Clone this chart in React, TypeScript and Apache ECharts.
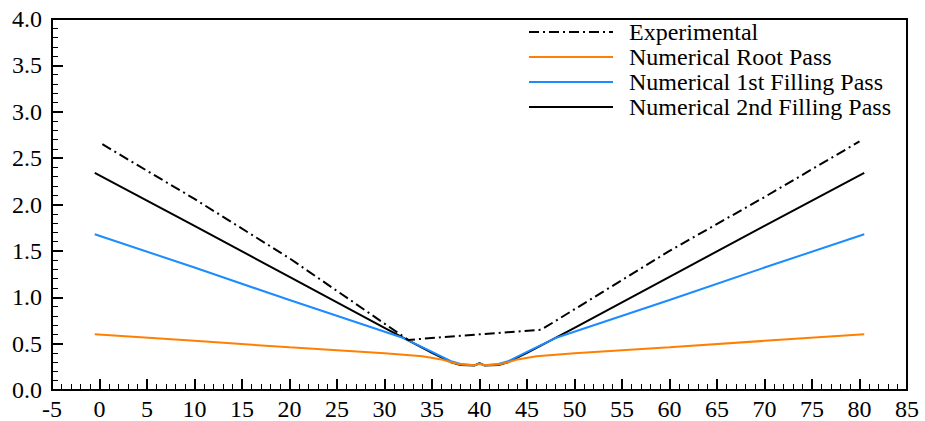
import React, { useEffect, useRef } from "react";
import * as echarts from "echarts";

const seriesNames = [
  "Experimental",
  "Numerical Root Pass",
  "Numerical 1st Filling Pass",
  "Numerical 2nd Filling Pass",
];

const experimental: [number, number][] = [
  [0.3, 2.65], [10, 2.06], [20, 1.42], [32.5, 0.54], [40, 0.6], [46.5, 0.65], [60, 1.5], [70, 2.08], [80, 2.68],
];

const rootPass: [number, number][] = [
  [-0.5, 0.6], [10, 0.53], [20, 0.46], [30, 0.395], [34, 0.365], [36, 0.33], [37, 0.3], [38, 0.275],
  [39.5, 0.268], [40, 0.28], [40.5, 0.268], [42, 0.275], [43, 0.3], [44, 0.33], [46, 0.365], [50, 0.395],
  [60, 0.46], [70, 0.53], [80.5, 0.6],
];

const firstFilling: [number, number][] = [
  [-0.5, 1.68], [10, 1.32], [20, 0.97], [32, 0.56], [35, 0.41], [37, 0.31], [38, 0.28], [39.5, 0.268],
  [40, 0.285], [40.5, 0.268], [42, 0.28], [43, 0.31], [45, 0.41], [48, 0.56], [60, 0.97], [70, 1.32], [80.5, 1.68],
];

const secondFilling: [number, number][] = [
  [-0.5, 2.34], [10, 1.77], [20, 1.22], [30, 0.67], [35, 0.4], [37, 0.3], [38, 0.27], [39.5, 0.265],
  [40, 0.29], [40.5, 0.265], [42, 0.27], [43, 0.3], [45, 0.4], [50, 0.67], [60, 1.22], [70, 1.77], [80.5, 2.34],
];

const seriesData = [experimental, rootPass, firstFilling, secondFilling];
const seriesColors = ["#000000", "#ff8000", "#1a8cff", "#000000"];
const seriesDash: any[] = [[10, 4, 2, 4], "solid", "solid", "solid"];

const FONT = "Liberation Serif, Times New Roman, serif";

export default function App() {
  const ref = useRef<HTMLDivElement>(null);
  useEffect(() => {
    if (!ref.current) return;
    const chart = echarts.init(ref.current, null, { renderer: "svg" });
    chart.setOption({
      animation: false,
      backgroundColor: "#ffffff",
      grid: {
        left: 52,
        right: 18,
        top: 19,
        bottom: 27,
        show: true,
        borderColor: "#000",
        borderWidth: 2,
        backgroundColor: "transparent",
      },
      legend: {
        orient: "vertical",
        left: 523,
        top: 15,
        itemWidth: 84,
        itemHeight: 10,
        itemGap: 1,
        data: seriesNames,
        itemStyle: { opacity: 0 },
        textStyle: {
          fontFamily: FONT,
          fontSize: 24,
          color: "#000",
          lineHeight: 24,
          padding: [0, 0, 0, 11],
        },
      },
      xAxis: {
        type: "value",
        min: -5,
        max: 85,
        interval: 5,
        axisLine: { show: true, onZero: false, lineStyle: { color: "#000", width: 2 } },
        axisTick: { show: true, inside: true, length: 11, lineStyle: { color: "#000", width: 2 } },
        minorTick: { show: true, splitNumber: 5, length: 6, lineStyle: { color: "#000", width: 1 } },
        splitLine: { show: false },
        axisLabel: { fontFamily: FONT, fontSize: 24, color: "#000", margin: 7 },
      },
      yAxis: {
        type: "value",
        min: 0,
        max: 4,
        interval: 0.5,
        axisLine: { show: true, onZero: false, lineStyle: { color: "#000", width: 2 } },
        axisTick: { show: true, inside: true, length: 11, lineStyle: { color: "#000", width: 2 } },
        minorTick: { show: true, splitNumber: 5, length: 6, lineStyle: { color: "#000", width: 1 } },
        splitLine: { show: false },
        axisLabel: {
          fontFamily: FONT,
          fontSize: 24,
          color: "#000",
          margin: 10,
          formatter: (v: number) => v.toFixed(1),
        },
      },
      series: seriesNames.map((name, i) => ({
        name,
        type: "line",
        data: seriesData[i],
        symbol: "none",
        color: seriesColors[i],
        lineStyle: { color: seriesColors[i], width: 2, type: seriesDash[i] },
        z: 10 - i,
      })),
    });
    return () => chart.dispose();
  }, []);
  return (
    <div
      ref={ref}
      style={{ position: "fixed", left: 0, top: 0, width: 925, height: 421 }}
    />
  );
}
